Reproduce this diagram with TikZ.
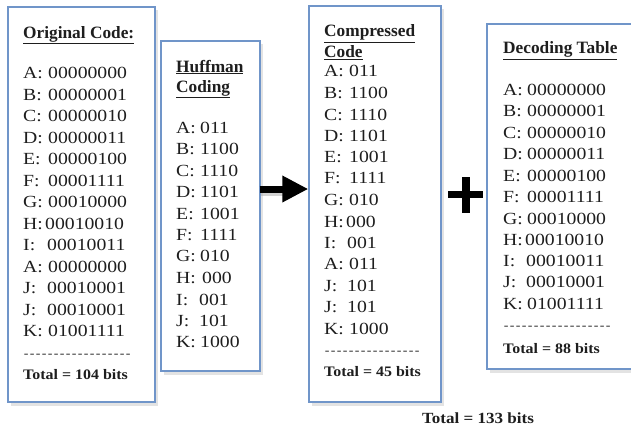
\documentclass[tikz,border=0pt]{standalone}
\usepackage{fontspec}
\setmainfont{Liberation Serif}
\newfontfamily\codefont[FakeStretch=1.16]{Liberation Serif}
\newfontfamily\totalfont[FakeStretch=1.1]{Liberation Serif Bold}
\usetikzlibrary{shadows,arrows.meta}
\definecolor{boxblue}{HTML}{7095C9}
\definecolor{ink}{HTML}{1E1E1E}
\tikzset{
  box/.style={draw=boxblue, line width=1.4pt, fill=white, rectangle, inner sep=0pt,
    drop shadow={opacity=0.22, shadow xshift=2.5pt, shadow yshift=-3.5pt}},
  codeline/.style={anchor=base west, inner sep=0pt, text=ink, font=\codefont\fontsize{17}{20}\selectfont},
  titleline/.style={anchor=base west, inner sep=0pt, text=ink, font=\bfseries\fontsize{17.3}{20}\selectfont},
  dashline/.style={anchor=base west, inner sep=0pt, text=ink, font=\codefont\fontsize{12}{12}\selectfont},
  totalline/.style={anchor=base west, inner sep=0pt, text=ink, font=\totalfont\fontsize{14.5}{18}\selectfont},
  bigarrow/.style={line width=7pt, draw=black, -{Triangle[length=26pt,width=25pt]}, shorten <=-1pt},
}
\newcommand{\cl}[2]{\makebox[#1pt][l]{#2}}
\newcommand{\dashrow}[1]{\foreach \i in {1,...,#1}{\makebox[6pt][c]{-}}}
\begin{document}
\begin{tikzpicture}[x=1pt,y=-1pt]
\useasboundingbox (0,0) rectangle (631,428);
% boxes
\node[box, minimum width=147pt, minimum height=395pt] (b1) at (81.5,204.5) {};
\node[box, minimum width=99pt, minimum height=330pt] (b2) at (210.5,206) {};
\node[box, minimum width=132pt, minimum height=396pt] (b3) at (375,204) {};
\node[box, minimum width=155pt, minimum height=345pt] (b4) at (564.5,196.5) {};

% box 1: original code
\node[titleline] (t1) at (23,38) {\underline{Original Code:}};
\node[codeline] (o1) at (23,78) {\cl{25}{A:}00000000};
\node[codeline] (o2) at (23,100) {\cl{25}{B:}00000001};
\node[codeline] (o3) at (23,121) {\cl{25}{C:}00000010};
\node[codeline] (o4) at (23,143) {\cl{25}{D:}00000011};
\node[codeline] (o5) at (23,164) {\cl{25}{E:}00000100};
\node[codeline] (o6) at (23,186) {\cl{25}{F:}00001111};
\node[codeline] (o7) at (23,207) {\cl{25}{G:}00010000};
\node[codeline] (o8) at (23,229) {\cl{22}{H:}00010010};
\node[codeline] (o9) at (23,250) {\cl{24}{I:}00010011};
\node[codeline] (o10) at (23,272) {\cl{25}{A:}00000000};
\node[codeline] (o11) at (23,293) {\cl{24}{J:}00010001};
\node[codeline] (o12) at (23,315) {\cl{24}{J:}00010001};
\node[codeline] (o13) at (23,336) {\cl{25}{K:}01001111};
\node[dashline] (d1) at (23,357) {\dashrow{18}};
\node[totalline] (s1) at (23,379) {Total = 104 bits};

% box 2: huffman coding
\node[titleline] (t2a) at (176,72) {\underline{Huffman}};
\node[titleline] (t2b) at (176,92) {\underline{Coding}};
\node[codeline] (h1) at (176,133) {\cl{24}{A:}011};
\node[codeline] (h2) at (176,154) {\cl{24}{B:}1100};
\node[codeline] (h3) at (176,176) {\cl{24}{C:}1110};
\node[codeline] (h4) at (176,197) {\cl{24}{D:}1101};
\node[codeline] (h5) at (176,219) {\cl{24}{E:}1001};
\node[codeline] (h6) at (176,240) {\cl{24}{F:}1111};
\node[codeline] (h7) at (176,261) {\cl{24}{G:}010};
\node[codeline] (h8) at (176,283) {\cl{26}{H:}000};
\node[codeline] (h9) at (176,305) {\cl{23}{I:}001};
\node[codeline] (h10) at (176,326) {\cl{23}{J:}101};
\node[codeline] (h11) at (176,347) {\cl{24}{K:}1000};

% box 3: compressed code
\node[titleline] (t3a) at (324,37) {\underline{Compressed}};
\node[titleline] (t3b) at (324,58) {\underline{Code}};
\node[codeline] (c1) at (324,76) {\cl{25}{A:}011};
\node[codeline] (c2) at (324,98) {\cl{25}{B:}1100};
\node[codeline] (c3) at (324,120) {\cl{25}{C:}1110};
\node[codeline] (c4) at (324,141) {\cl{25}{D:}1101};
\node[codeline] (c5) at (324,162) {\cl{25}{E:}1001};
\node[codeline] (c6) at (324,183) {\cl{25}{F:}1111};
\node[codeline] (c7) at (324,205) {\cl{25}{G:}010};
\node[codeline] (c8) at (324,227) {\cl{22}{H:}000};
\node[codeline] (c9) at (324,248) {\cl{23}{I:}001};
\node[codeline] (c10) at (324,269) {\cl{25}{A:}011};
\node[codeline] (c11) at (324,291) {\cl{23}{J:}101};
\node[codeline] (c12) at (324,312) {\cl{23}{J:}101};
\node[codeline] (c13) at (324,334) {\cl{25}{K:}1000};
\node[dashline] (d3) at (324,354) {\dashrow{16}};
\node[totalline] (s3) at (324,376) {Total = 45 bits};

% box 4: decoding table
\node[titleline] (t4) at (503,54) {\underline{Decoding Table}};
\node[codeline] (k1) at (503,95) {\cl{24}{A:}00000000};
\node[codeline] (k2) at (503,116) {\cl{24}{B:}00000001};
\node[codeline] (k3) at (503,138) {\cl{24}{C:}00000010};
\node[codeline] (k4) at (503,159) {\cl{24}{D:}00000011};
\node[codeline] (k5) at (503,181) {\cl{24}{E:}00000100};
\node[codeline] (k6) at (503,202) {\cl{24}{F:}00001111};
\node[codeline] (k7) at (503,224) {\cl{24}{G:}00010000};
\node[codeline] (k8) at (503,245) {\cl{22}{H:}00010010};
\node[codeline] (k9) at (503,266) {\cl{23}{I:}00010011};
\node[codeline] (k10) at (503,287) {\cl{23}{J:}00010001};
\node[codeline] (k11) at (503,309) {\cl{24}{K:}01001111};
\node[dashline] (d4) at (503,329) {\dashrow{18}};
\node[totalline] (s4) at (503,353) {Total = 88 bits};

% grand total
\node[totalline, anchor=base, font=\totalfont\fontsize{15.5}{18}\selectfont] (gt) at (478,423) {Total = 133 bits};

% arrow between huffman and compressed
\coordinate (ay) at (0,189);
\fill[black!35, opacity=0.5] (261,187) rectangle (286,196);
\draw[bigarrow] (b2.east |- ay) -- (b3.west |- ay);

% plus sign
\fill[black] (448,191) rectangle (483,198);
\fill[black] (462,177) rectangle (470,213);
\end{tikzpicture}
\end{document}
